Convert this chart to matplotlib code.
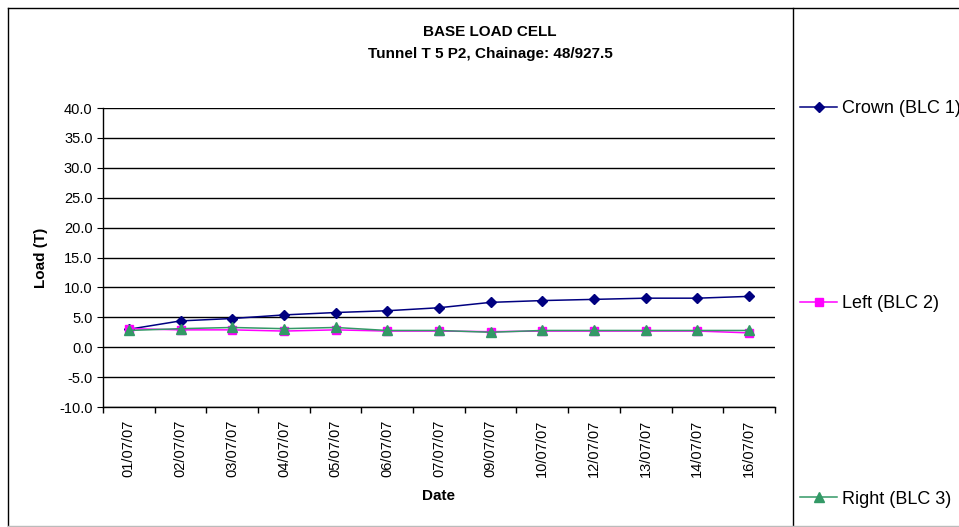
"""Base load cell readings, Tunnel T 5 P2."""

import matplotlib
matplotlib.use("Agg")
import matplotlib.pyplot as plt
from matplotlib import font_manager
from matplotlib.lines import Line2D
from matplotlib.ticker import FixedLocator, MultipleLocator

dates = ["01/07/07", "02/07/07", "03/07/07", "04/07/07", "05/07/07", "06/07/07",
         "07/07/07", "09/07/07", "10/07/07", "12/07/07", "13/07/07", "14/07/07",
         "16/07/07"]
crown = [3.0, 4.4, 4.8, 5.4, 5.8, 6.1, 6.6, 7.5, 7.8, 8.0, 8.2, 8.2, 8.5]
left = [3.1, 2.9, 2.9, 2.7, 2.9, 2.7, 2.7, 2.6, 2.7, 2.7, 2.7, 2.7, 2.4]
right = [2.8, 3.1, 3.3, 3.1, 3.3, 2.8, 2.8, 2.5, 2.8, 2.8, 2.8, 2.8, 2.8]

plt.rcParams["font.family"] = ["Liberation Sans", "DejaVu Sans"]

# titles use a narrow bold face if one is installed
fonts = font_manager.fontManager.ttflist
narrow = dict(family=["Liberation Sans", "DejaVu Sans"], fontsize=11)
if any(f.name == "Liberation Sans Narrow" for f in fonts):
    narrow = dict(family=["Liberation Sans Narrow"], fontsize=11.5)

fig = plt.figure(figsize=(9.59, 5.27), dpi=100)
ax = fig.add_axes([0.1074, 0.2277, 0.7006, 0.5673])

x = list(range(len(dates)))
ax.plot(x, crown, color="#000080", lw=1.1, marker="D", ms=5.5, label="Crown (BLC 1)")
ax.plot(x, left, color="#FF00FF", lw=1.1, marker="s", ms=6, label="Left (BLC 2)")
ax.plot(x, right, color="#339966", lw=1.1, marker="^", ms=7, label="Right (BLC 3)")

ax.set_xlim(-0.5, len(dates) - 0.5)
ax.set_ylim(-10, 40)
ax.yaxis.set_major_locator(MultipleLocator(5))
ax.set_yticklabels([f"{v:.1f}" for v in ax.get_yticks()])
ax.grid(axis="y", color="black", lw=1)
ax.set_axisbelow(True)

ax.set_xticks(x)
ax.set_xticklabels(dates, rotation=90, fontsize=10.5)
ax.xaxis.set_minor_locator(FixedLocator([i - 0.5 for i in range(len(dates) + 1)]))
ax.tick_params(axis="x", which="major", length=0, pad=9)
ax.tick_params(axis="x", which="minor", length=4.5, direction="out", width=1)
ax.tick_params(axis="y", length=4.5, direction="out", labelsize=10.5, pad=3)

for side in ("top", "right"):
    ax.spines[side].set_visible(False)
for side in ("left", "bottom"):
    ax.spines[side].set_linewidth(1)

ax.set_xlabel("Date", fontweight="bold", labelpad=9, **narrow)
ax.set_ylabel("Load (T)", fontweight="bold", labelpad=8, **narrow)

fig.text(490 / 959, 1 - 32 / 527, "BASE LOAD CELL", ha="center", va="center",
         fontweight="bold", **narrow)
fig.text(490 / 959, 1 - 54 / 527, "Tunnel T 5 P2, Chainage: 48/927.5", ha="center",
         va="center", fontweight="bold", **narrow)

# chart frame and legend separator
fig.add_artist(Line2D([8 / 959, 1], [1 - 8 / 527] * 2, color="black", lw=1))
fig.add_artist(Line2D([8 / 959] * 2, [1 - 8 / 527, 0], color="black", lw=1))
fig.add_artist(Line2D([793 / 959] * 2, [1 - 8 / 527, 0], color="black", lw=1))
fig.add_artist(Line2D([8 / 959, 1], [1 / 527] * 2, color="#BBBBBB", lw=1))

fig.legend(loc="upper left", bbox_to_anchor=(800 / 959, 1 - 100 / 527), frameon=False,
           fontsize=13, labelspacing=9.88, handlelength=2.05, handletextpad=0.28,
           borderaxespad=0, borderpad=0)

fig.savefig("out.png", dpi=100)
